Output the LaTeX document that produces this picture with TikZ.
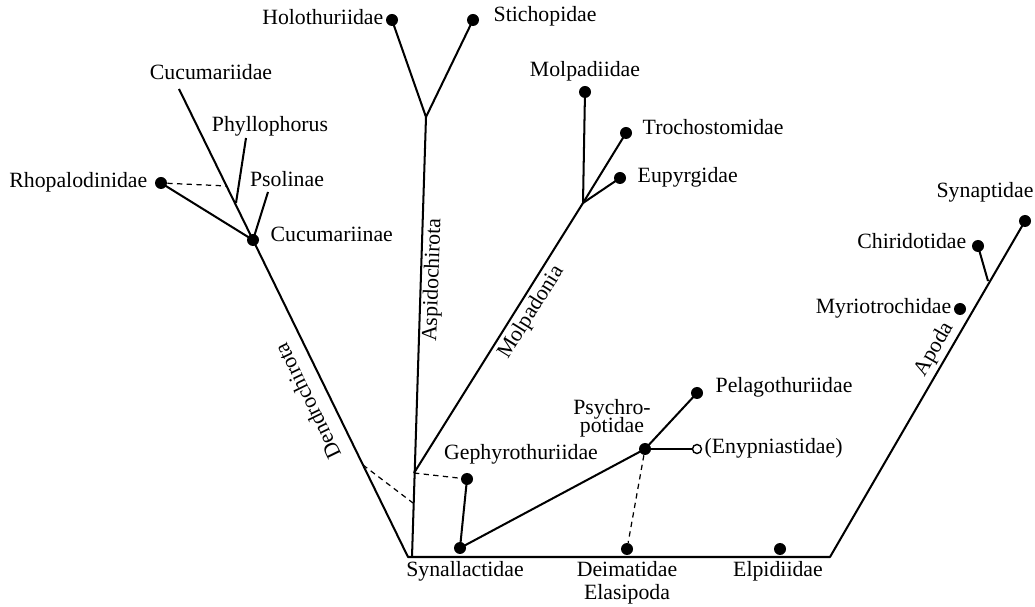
\documentclass[tikz,border=0pt]{standalone}
\usepackage{fontspec}
\setmainfont{Liberation Serif}
\usetikzlibrary{positioning}

\begin{document}
\begin{tikzpicture}[
  x=0.02cm, y=-0.02cm,
  every node/.style={font=\fontsize{12.4}{13}\selectfont},
  dot/.style={circle, fill=black, inner sep=0pt, minimum size=0.24cm},
  odot/.style={circle, draw=black, fill=white, line width=0.8pt,
    inner sep=0pt, minimum size=0.18cm},
  lbl/.style={inner sep=0pt, text height=0.7em, text depth=0.2em},
  twoline/.style={inner sep=0pt, align=center},
  clade/.style={line width=1.15pt, line join=round},
  link/.style={line width=0.7pt, dash pattern=on 3pt off 2.5pt}
]
\useasboundingbox (0,0) rectangle (1035,607);

% branch points
\coordinate (base) at (408,557);
\coordinate (aspB) at (412,557);
\coordinate (aspT) at (426,117);
\coordinate (molB) at (414,473);
\coordinate (molT) at (583,203);
\coordinate (phyB) at (236,203);
\coordinate (phyT) at (246,138);
\coordinate (psoT) at (268,192);
\coordinate (cucT) at (179,89);
\coordinate (rhoJ) at (227,186);
\coordinate (denJ) at (363,465);
\coordinate (aspJ) at (413,503);
\coordinate (apoB) at (830,557);
\coordinate (apoJ) at (988,281);

% taxa
\node[dot] (cucin) at (253,240) {};
\node[dot] (rhop)  at (161,183) {};
\node[dot] (holo)  at (392,20)  {};
\node[dot] (stich) at (473,20)  {};
\node[dot] (molp)  at (585,92)  {};
\node[dot] (troch) at (626,133) {};
\node[dot] (eupy)  at (620,178) {};
\node[dot] (geph)  at (467,479) {};
\node[dot] (synal) at (460,548) {};
\node[dot] (psych) at (645,449) {};
\node[dot] (pelag) at (697,393) {};
\node[odot] (enyp) at (697,449) {};
\node[dot] (deim)  at (627,549) {};
\node[dot] (elpid) at (780,549) {};
\node[dot] (synap) at (1025,221) {};
\node[dot] (chiri) at (978,246) {};
\node[dot] (myrio) at (960,309) {};

% solid branches
\draw[clade] (cucT) -- (cucin.center) -- (base) -- (apoB) -- (synap.center);
\draw[clade] (aspB) -- (aspT) -- (holo.center);
\draw[clade] (aspT) -- (stich.center);
\draw[clade] (molB) -- (molT) -- (molp.center);
\draw[clade] (molT) -- (troch.center);
\draw[clade] (molT) -- (eupy.center);
\draw[clade] (phyB) -- (phyT);
\draw[clade] (cucin.center) -- (psoT);
\draw[clade] (rhop.center) -- (cucin.center);
\draw[clade] (geph.center) -- (synal.center) -- (psych.center) -- (pelag.center);
\draw[line width=1.7pt] (psych.center) -- (enyp);
\draw[clade] (apoJ) -- (chiri.center);

% dashed links
\draw[link] (rhop) -- (rhoJ);
\draw[link] (denJ) -- (aspJ);
\draw[link] (molB) -- (geph);
\draw[link] (psych) -- (deim);

% labels
\node[lbl, left=0.14cm of rhop] (rhopL) {Rhopalodinidae};
\node[lbl, left=0.04cm of holo] (holoL) {Holothuriidae};
\node[lbl, right=0.28cm of stich, yshift=0.06cm] (stichL) {Stichopidae};
\node[lbl, above=0.1cm of molp] (molpL) {Molpadiidae};
\node[lbl, right=0.2cm of troch, yshift=0.06cm] (trochL) {Trochostomidae};
\node[lbl, right=0.22cm of eupy] (eupyL) {Eupyrgidae};
\node[lbl, right=0.22cm of cucin, yshift=0.06cm] (cucinL) {Cucumariinae};
\node[lbl, right=0.24cm of pelag, yshift=0.1cm] (pelagL) {Pelagothuriidae};
\node[lbl, right=0.04cm of enyp] (enypL) {(Enypniastidae)};
\node[lbl, left=0.1cm of chiri, yshift=0.04cm] (chiriL) {Chiridotidae};
\node[lbl, left=0.04cm of myrio] (myrioL) {Myriotrochidae};
\node[lbl] (cucL)   at (211,75)  {Cucumariidae};
\node[lbl] (phyL)   at (270,127) {Phyllophorus};
\node[lbl] (psoL)   at (287,182) {Psolinae};
\node[lbl] (gephL)  at (521,455) {Gephyrothuriidae};
\node[twoline] (psychL) at (612,418) {Psychro-\\[-2.8pt]potidae};
\node[lbl] (synalL) at (465,572) {Synallactidae};
\node[twoline] (deimL) at (627,583) {Deimatidae\\Elasipoda};
\node[lbl] (elpidL) at (778,572) {Elpidiidae};
\node[lbl] (synapL) at (985,193) {Synaptidae};

% group names along the branches
\node[lbl, rotate=88]  (aspL) at (434,280) {Aspidochirota};
\node[lbl, rotate=58]  (molL) at (532,313) {Molpadonia};
\node[lbl, rotate=116] (denL) at (310,400) {Dendrochirota};
\node[lbl, rotate=60]  (apoL) at (935,350) {Apoda};
\end{tikzpicture}
\end{document}
